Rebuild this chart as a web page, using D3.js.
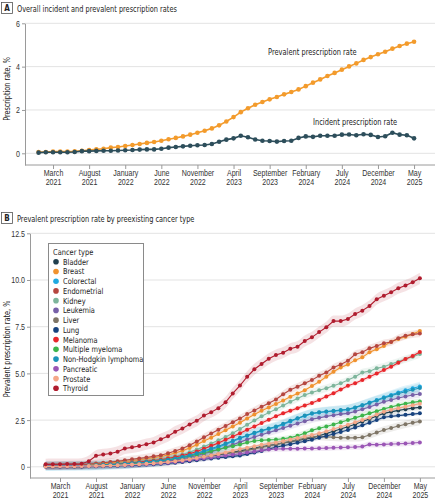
<!DOCTYPE html>
<html>
<head>
<meta charset="utf-8">
<script src="https://cdn.jsdelivr.net/npm/d3@7"></script>
<style>
  body { margin: 0; background: #fff; }
  svg { font-family: "DejaVu Sans Condensed", "DejaVu Sans", sans-serif; }
</style>
</head>
<body>
<svg id="chart" width="437" height="500"></svg>
<script>
// monthly points, January 2021 .. May 2025 (index 0..52)
const tickIndex = [2, 7, 12, 17, 22, 27, 32, 37, 42, 47, 52];
const tickLabels = [["March", "2021"], ["August", "2021"], ["January", "2022"], ["June", "2022"],
    ["November", "2022"], ["April", "2023"], ["September", "2023"], ["February", "2024"],
    ["July", "2024"], ["December", "2024"], ["May", "2025"]];

// Panel A
const prevalentRate = [0.06, 0.06, 0.08, 0.08, 0.08, 0.09, 0.12, 0.15, 0.18, 0.21, 0.26, 0.29, 0.34,
    0.38, 0.43, 0.48, 0.52, 0.58, 0.65, 0.71, 0.78, 0.86, 0.95, 1.04, 1.15, 1.29, 1.47, 1.67, 1.90,
    2.08, 2.24, 2.37, 2.49, 2.60, 2.72, 2.83, 2.95, 3.10, 3.26, 3.41, 3.57, 3.71, 3.86, 4.01, 4.15,
    4.31, 4.44, 4.57, 4.69, 4.83, 4.95, 5.06, 5.15];
const incidentRate = [0.03, 0.05, 0.05, 0.05, 0.05, 0.06, 0.10, 0.10, 0.11, 0.12, 0.12, 0.13, 0.14,
    0.15, 0.17, 0.18, 0.18, 0.21, 0.26, 0.29, 0.32, 0.35, 0.37, 0.38, 0.43, 0.53, 0.63, 0.69, 0.81,
    0.74, 0.64, 0.58, 0.57, 0.54, 0.57, 0.58, 0.71, 0.78, 0.76, 0.81, 0.81, 0.81, 0.86, 0.87, 0.83,
    0.88, 0.85, 0.75, 0.79, 0.95, 0.86, 0.83, 0.69];

// Panel B
const cancerTypes = ["Bladder", "Breast", "Colorectal", "Endometrial", "Kidney", "Leukemia", "Liver",
    "Lung", "Melanoma", "Multiple myeloma", "Non-Hodgkin lymphoma", "Pancreatic", "Prostate", "Thyroid"];
const cancerColors = ["#203f4e", "#f0922e", "#1fa9e1", "#b5463f", "#7db59b", "#7760a8", "#7e7566",
    "#17427e", "#e8262b", "#3cb44b", "#1b93b8", "#9a55b5", "#f5a788", "#b01c2e"];
const ciHalfWidth = [0.15, 0.12, 0.25, 0.2, 0.2, 0.2, 0.2, 0.1, 0.12, 0.15, 0.25, 0.15, 0.08, 0.3];

const bladder = [0.02, 0.02, 0.02, 0.03, 0.03, 0.03, 0.04, 0.05, 0.06, 0.07, 0.08, 0.09, 0.11, 0.13,
    0.15, 0.18, 0.21, 0.25, 0.29, 0.34, 0.40, 0.46, 0.52, 0.58, 0.64, 0.70, 0.78, 0.85, 0.92, 1.00,
    1.07, 1.14, 1.20, 1.27, 1.34, 1.41, 1.48, 1.55, 1.66, 1.78, 1.90, 2.02, 2.14, 2.28, 2.42, 2.56,
    2.72, 2.86, 2.94, 3.02, 3.08, 3.14, 3.18];
const breast = [0.07, 0.07, 0.08, 0.08, 0.09, 0.09, 0.11, 0.14, 0.17, 0.20, 0.24, 0.28, 0.33, 0.38,
    0.43, 0.48, 0.55, 0.63, 0.74, 0.86, 1.00, 1.18, 1.38, 1.56, 1.76, 1.96, 2.16, 2.36, 2.58, 2.80,
    3.00, 3.18, 3.36, 3.55, 3.75, 3.92, 4.10, 4.32, 4.55, 4.82, 5.09, 5.31, 5.48, 5.71, 5.86, 6.13,
    6.29, 6.47, 6.70, 6.84, 6.96, 7.11, 7.27];
const colorectal = [0.03, 0.03, 0.04, 0.04, 0.04, 0.05, 0.05, 0.06, 0.08, 0.09, 0.11, 0.13, 0.15,
    0.18, 0.21, 0.24, 0.28, 0.33, 0.40, 0.48, 0.57, 0.68, 0.80, 0.92, 1.05, 1.20, 1.35, 1.52, 1.66,
    1.80, 1.92, 2.02, 2.12, 2.26, 2.42, 2.58, 2.72, 2.84, 2.90, 2.95, 2.98, 3.02, 3.06, 3.16, 3.30,
    3.44, 3.58, 3.72, 3.85, 3.98, 4.10, 4.20, 4.30];
const endometrial = [0.10, 0.10, 0.11, 0.11, 0.12, 0.12, 0.14, 0.18, 0.22, 0.26, 0.30, 0.35, 0.40,
    0.45, 0.50, 0.56, 0.62, 0.72, 0.85, 0.98, 1.15, 1.35, 1.58, 1.78, 1.98, 2.18, 2.38, 2.58, 2.82,
    3.02, 3.22, 3.40, 3.60, 3.88, 4.12, 4.29, 4.47, 4.64, 4.87, 5.05, 5.31, 5.48, 5.68, 6.02, 6.13,
    6.34, 6.47, 6.61, 6.68, 6.88, 7.02, 7.09, 7.13];
const kidney = [0.05, 0.05, 0.06, 0.06, 0.06, 0.07, 0.08, 0.10, 0.12, 0.14, 0.17, 0.20, 0.23, 0.27,
    0.31, 0.35, 0.40, 0.47, 0.56, 0.66, 0.78, 0.92, 1.08, 1.25, 1.42, 1.60, 1.80, 2.02, 2.25, 2.48,
    2.70, 2.90, 3.08, 3.28, 3.48, 3.66, 3.84, 3.98, 4.10, 4.20, 4.34, 4.47, 4.64, 4.82, 5.05, 5.12,
    5.27, 5.36, 5.50, 5.63, 5.77, 5.89, 6.04];
const leukemia = [0.03, 0.03, 0.03, 0.04, 0.04, 0.04, 0.05, 0.06, 0.07, 0.08, 0.10, 0.12, 0.14,
    0.16, 0.19, 0.22, 0.25, 0.30, 0.36, 0.43, 0.51, 0.60, 0.70, 0.81, 0.93, 1.05, 1.18, 1.32, 1.46,
    1.60, 1.72, 1.84, 1.95, 2.08, 2.20, 2.32, 2.44, 2.55, 2.62, 2.70, 2.76, 2.82, 2.86, 2.96, 3.08,
    3.20, 3.34, 3.48, 3.58, 3.68, 3.76, 3.84, 3.90];
const liver = [0.03, 0.03, 0.03, 0.04, 0.04, 0.04, 0.05, 0.06, 0.07, 0.08, 0.09, 0.11, 0.13, 0.15,
    0.17, 0.20, 0.23, 0.27, 0.31, 0.36, 0.42, 0.48, 0.54, 0.60, 0.66, 0.72, 0.76, 0.80, 0.88, 0.96,
    1.04, 1.12, 1.20, 1.28, 1.36, 1.44, 1.52, 1.60, 1.62, 1.60, 1.58, 1.56, 1.55, 1.55, 1.58, 1.70,
    1.84, 1.97, 2.08, 2.18, 2.28, 2.36, 2.43];
const lung = [0.01, 0.01, 0.02, 0.02, 0.02, 0.02, 0.03, 0.03, 0.04, 0.05, 0.06, 0.07, 0.08, 0.10,
    0.12, 0.14, 0.16, 0.19, 0.22, 0.26, 0.30, 0.35, 0.40, 0.44, 0.48, 0.52, 0.56, 0.60, 0.68, 0.76,
    0.85, 0.95, 1.05, 1.13, 1.21, 1.29, 1.37, 1.45, 1.55, 1.65, 1.76, 1.86, 1.97, 2.10, 2.22, 2.36,
    2.50, 2.65, 2.70, 2.74, 2.78, 2.82, 2.86];
const melanoma = [0.04, 0.04, 0.05, 0.05, 0.05, 0.06, 0.07, 0.09, 0.11, 0.13, 0.15, 0.18, 0.21,
    0.25, 0.29, 0.33, 0.38, 0.44, 0.52, 0.60, 0.70, 0.82, 0.96, 1.12, 1.28, 1.45, 1.62, 1.80, 1.98,
    2.16, 2.35, 2.52, 2.70, 2.86, 3.00, 3.14, 3.28, 3.42, 3.58, 3.76, 3.94, 4.14, 4.34, 4.47, 4.64,
    4.82, 5.00, 5.18, 5.36, 5.57, 5.77, 5.93, 6.14];
const multipleMyeloma = [0.04, 0.04, 0.05, 0.05, 0.05, 0.06, 0.06, 0.08, 0.09, 0.11, 0.13, 0.15,
    0.18, 0.21, 0.24, 0.28, 0.32, 0.37, 0.43, 0.50, 0.58, 0.66, 0.75, 0.84, 0.93, 1.02, 1.10, 1.20,
    1.30, 1.38, 1.42, 1.44, 1.46, 1.50, 1.56, 1.66, 1.80, 1.95, 2.06, 2.16, 2.26, 2.38, 2.50, 2.62,
    2.74, 2.86, 2.98, 3.10, 3.20, 3.30, 3.38, 3.45, 3.50];
const nonHodgkin = [0.05, 0.05, 0.05, 0.06, 0.06, 0.06, 0.07, 0.08, 0.10, 0.12, 0.14, 0.16, 0.19,
    0.22, 0.25, 0.29, 0.33, 0.38, 0.45, 0.53, 0.62, 0.73, 0.85, 0.98, 1.10, 1.25, 1.40, 1.55, 1.68,
    1.82, 1.94, 2.05, 2.16, 2.30, 2.46, 2.60, 2.74, 2.86, 2.92, 2.96, 3.00, 3.04, 3.08, 3.18, 3.30,
    3.42, 3.55, 3.68, 3.80, 3.92, 4.02, 4.12, 4.22];
const pancreatic = [0.02, 0.02, 0.02, 0.02, 0.03, 0.03, 0.03, 0.04, 0.05, 0.06, 0.07, 0.08, 0.10,
    0.12, 0.14, 0.16, 0.19, 0.22, 0.26, 0.30, 0.35, 0.40, 0.45, 0.50, 0.55, 0.60, 0.65, 0.70, 0.76,
    0.82, 0.88, 0.92, 0.95, 0.96, 0.97, 0.97, 0.98, 0.98, 0.99, 1.00, 1.02, 1.03, 1.05, 1.06, 1.08,
    1.20, 1.18, 1.20, 1.22, 1.23, 1.25, 1.27, 1.30];
const prostate = [0.02, 0.02, 0.03, 0.03, 0.03, 0.04, 0.04, 0.05, 0.06, 0.07, 0.08, 0.10, 0.12,
    0.14, 0.16, 0.19, 0.22, 0.26, 0.30, 0.35, 0.41, 0.47, 0.54, 0.61, 0.69, 0.77, 0.86, 0.95, 1.02,
    1.10, 1.18, 1.24, 1.30, 1.38, 1.46, 1.54, 1.62, 1.70, 1.80, 1.90, 2.02, 2.14, 2.25, 2.38, 2.50,
    2.62, 2.80, 2.95, 3.05, 3.14, 3.22, 3.30, 3.38];
const thyroid = [0.13, 0.14, 0.14, 0.15, 0.15, 0.16, 0.30, 0.59, 0.66, 0.71, 0.80, 0.98, 1.04, 1.11,
    1.21, 1.30, 1.48, 1.64, 1.88, 2.05, 2.27, 2.46, 2.74, 2.92, 3.14, 3.45, 3.93, 4.35, 4.82, 5.22,
    5.50, 5.78, 5.98, 6.11, 6.32, 6.43, 6.73, 6.93, 7.21, 7.47, 7.80, 7.80, 7.91, 8.18, 8.36, 8.61,
    8.97, 9.16, 9.34, 9.56, 9.70, 9.88, 10.09];

const cancerValues = [bladder, breast, colorectal, endometrial, kidney, leukemia, liver, lung,
    melanoma, multipleMyeloma, nonHodgkin, pancreatic, prostate, thyroid];

const svg = d3.select("#chart");
const gridColor = "#e3e3e3";
const axisColor = "#9a9a9a";

// text squeezed horizontally to mimic the narrow journal face
function label(parent, x, y, str, size, sx, anchor, rotate) {
    return parent.append("g")
        .attr("transform", `translate(${x},${y})${rotate ? " rotate(" + rotate + ")" : ""} scale(${sx},1)`)
        .append("text")
        .attr("text-anchor", anchor || "start")
        .attr("fill", "#222")
        .style("font-size", size + "px")
        .text(str);
}

function panelTitle(letter, text, y) {
    svg.append("rect")
        .attr("x", 1.5).attr("y", y - 5.5)
        .attr("width", 11).attr("height", 11)
        .attr("fill", "white").attr("stroke", "#555").attr("stroke-width", 0.8);
    label(svg, 7, y + 3, letter, 8, 1, "middle").style("font-weight", "bold");
    label(svg, 17, y + 3.5, text, 9.5, 0.77);
}

function drawAxes(x, y, yTicks, yFormat, x0, x1, yTitle, yTitleCenter) {
    // gridlines
    svg.append("g").selectAll("line")
        .data(yTicks)
        .join("line")
        .attr("x1", x0).attr("x2", x1)
        .attr("y1", d => y(d)).attr("y2", d => y(d))
        .attr("stroke", gridColor).attr("stroke-width", 1);

    const yAxis = svg.append("g")
        .attr("transform", `translate(${x0},0)`)
        .call(d3.axisLeft(y).tickValues(yTicks).tickSize(3).tickSizeOuter(0).tickFormat(""));
    const xAxis = svg.append("g")
        .attr("transform", `translate(0,${y.range()[0]})`)
        .call(d3.axisBottom(x).tickValues(tickIndex).tickSize(4).tickSizeOuter(0).tickFormat(""));
    xAxis.select(".domain").attr("d", `M${x0},0H${x1}`);

    [yAxis, xAxis].forEach(a => {
        a.select(".domain").attr("stroke", axisColor);
        a.selectAll(".tick line").attr("stroke", axisColor);
        a.selectAll(".tick text").remove();
    });

    yAxis.selectAll(".tick").each(function (d) {
        label(d3.select(this), -5, 3, yFormat(d), 8.3, 0.85, "end").attr("fill", "#333");
    });
    xAxis.selectAll(".tick").each(function (d, i) {
        label(d3.select(this), 0, 10.8, tickLabels[i][0], 8.3, 0.85, "middle").attr("fill", "#333");
        label(d3.select(this), 0, 19.8, tickLabels[i][1], 8.3, 0.85, "middle").attr("fill", "#333");
    });

    label(svg, 10, yTitleCenter, yTitle, 8.8, 0.82, "middle", -90);
}

// ---------- Panel A ----------
panelTitle("A", "Overall incident and prevalent prescription rates", 8);

const xA = d3.scaleLinear().domain([-1.88, 54.9]).range([25, 435]);
const yA = d3.scaleLinear().domain([-0.54, 6]).range([165, 23.3]);
drawAxes(xA, yA, [0, 2, 4, 6], d3.format("d"), 25, 435, "Prescription rate, %", 89);

const seriesA = [
    {values: prevalentRate, color: "#f39b2c"},
    {values: incidentRate, color: "#2d4e5b"}
];
const lineA = d3.line().x((d, i) => xA(i)).y(d => yA(d));

seriesA.forEach(s => {
    svg.append("path")
        .attr("d", lineA(s.values))
        .attr("fill", "none").attr("stroke", s.color).attr("stroke-width", 1.6);
    svg.append("g").selectAll("circle")
        .data(s.values)
        .join("circle")
        .attr("cx", (d, i) => xA(i)).attr("cy", d => yA(d))
        .attr("r", 2.3).attr("fill", s.color);
});

label(svg, 268, 54.5, "Prevalent prescription rate", 8.6, 0.86);
label(svg, 313, 124.5, "Incident prescription rate", 8.6, 0.86);

// ---------- Panel B ----------
panelTitle("B", "Prevalent prescription rate by preexisting cancer type", 218);

const xB = d3.scaleLinear().domain([-2.17, 54.1]).range([30, 435]);
const yB = d3.scaleLinear().domain([-0.6, 12.5]).range([478, 233.3]);
drawAxes(xB, yB, [0, 2.5, 5, 7.5, 10, 12.5], d => d === 0 ? "0" : d.toFixed(1), 30, 435,
    "Prevalent prescription rate, %", 349);

const bandB = d3.area()
    .x(d => xB(d.i))
    .y0(d => yB(d.v - d.ci))
    .y1(d => yB(d.v + d.ci))
    .curve(d3.curveMonotoneX);
const lineB = d3.line().x((d, i) => xB(i)).y(d => yB(d));

const bands = svg.append("g");
const lines = svg.append("g");

cancerValues.forEach((vals, k) => {
    bands.append("path")
        .attr("d", bandB(vals.map((v, i) => ({i: i, v: v, ci: ciHalfWidth[k]}))))
        .attr("fill", cancerColors[k]).attr("fill-opacity", 0.13);
});

cancerValues.forEach((vals, k) => {
    const g = lines.append("g");
    g.append("path")
        .attr("d", lineB(vals))
        .attr("fill", "none").attr("stroke", cancerColors[k]).attr("stroke-width", 1.1);
    g.selectAll("circle")
        .data(vals)
        .join("circle")
        .attr("cx", (d, i) => xB(i)).attr("cy", d => yB(d))
        .attr("r", 2).attr("fill", cancerColors[k]);
});

// legend
const legend = svg.append("g");
legend.append("rect")
    .attr("x", 48.5).attr("y", 243.5).attr("width", 95).attr("height", 152)
    .attr("fill", "white").attr("stroke", "#8a8a8a").attr("stroke-width", 1);
label(legend, 53, 255, "Cancer type", 8.2, 0.9);
const item = legend.selectAll(".item")
    .data(cancerTypes)
    .join("g")
    .attr("class", "item")
    .attr("transform", (d, i) => `translate(0,${261.7 + i * 9.74})`);
item.append("circle").attr("cx", 56).attr("cy", 0).attr("r", 2.8)
    .attr("fill", (d, i) => cancerColors[i]);
item.each(function (d) {
    label(d3.select(this), 63, 3, d, 8.2, 0.9);
});
</script>
</body>
</html>
